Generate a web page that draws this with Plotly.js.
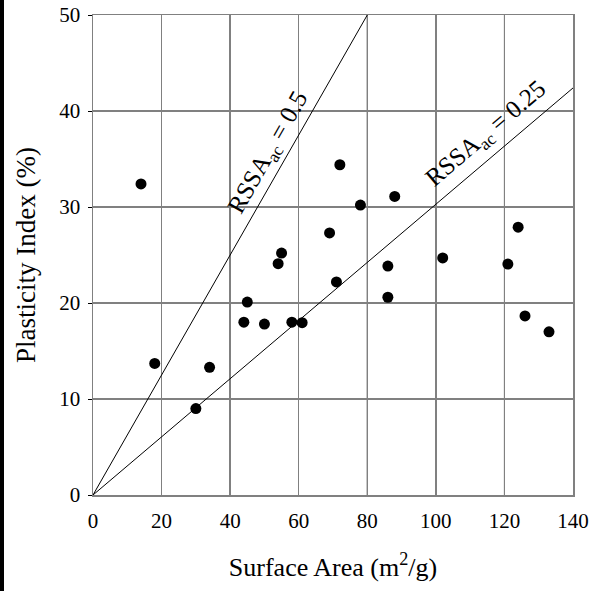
<!DOCTYPE html>
<html>
<head>
<meta charset="utf-8">
<script src="https://cdn.plot.ly/plotly-3.0.1.min.js"></script>
<style>
html,body{margin:0;padding:0;background:#fff;}
#wrap{position:relative;width:592px;height:591px;}
#strip{position:absolute;left:0;top:0;width:4px;height:591px;background:#000;z-index:10;}
#chart{width:592px;height:591px;}
</style>
</head>
<body>
<div id="wrap"><div id="strip"></div><div id="chart"></div></div>
<script>
// Data
var surfaceArea = [14, 18, 30, 34, 44, 45, 50, 54, 55, 58, 61, 69, 71, 72, 78, 86, 86, 88, 102, 121, 124, 126, 133];
var plasticityIndex = [32.4, 13.7, 9.0, 13.3, 18.0, 20.1, 17.8, 24.1, 25.2, 18.0, 17.95, 27.3, 22.2, 34.4, 30.2, 23.85, 20.6, 31.1, 24.7, 24.05, 27.9, 18.65, 17.0];

var lineA_x = [0, 80];
var lineA_y = [0, 50];
var lineB_x = [0, 140];
var lineB_y = [0, 42.4];

var xTicks = [0, 20, 40, 60, 80, 100, 120, 140];
var yTicks = [0, 10, 20, 30, 40, 50];
var darkGridX = [40, 80, 120];

var font = "Liberation Serif, Times New Roman, serif";

var traces = [
  {x: lineA_x, y: lineA_y, mode: 'lines', line: {color: '#000', width: 1}, hoverinfo: 'skip', showlegend: false},
  {x: lineB_x, y: lineB_y, mode: 'lines', line: {color: '#000', width: 1}, hoverinfo: 'skip', showlegend: false},
  {x: surfaceArea, y: plasticityIndex, mode: 'markers', marker: {color: '#000', size: 11}, showlegend: false}
];

var shapes = darkGridX.map(function(v){
  return {type: 'line', xref: 'x', yref: 'y', x0: v, x1: v, y0: 0, y1: 50, line: {color: '#000', width: 1}, layer: 'below'};
});

var layout = {
  width: 592, height: 591,
  margin: {l: 93, r: 19, t: 15, b: 96},
  paper_bgcolor: '#fff', plot_bgcolor: '#fff',
  font: {family: font, color: '#000', size: 21},
  showlegend: false,
  xaxis: {
    range: [0, 140], tickvals: xTicks, ticktext: xTicks.map(String),
    showgrid: true, gridcolor: '#808080', gridwidth: 1.5,
    showline: true, linecolor: '#808080', linewidth: 1.5, mirror: true,
    ticks: '', zeroline: false, ticklabelstandoff: 6,
    tickfont: {family: font, size: 21, color: '#000'},
    title: {text: 'Surface Area (m<sup>2</sup>/g)', font: {family: font, size: 26, color: '#000'}, standoff: 26}
  },
  yaxis: {
    range: [0, 50], tickvals: yTicks, ticktext: yTicks.map(String),
    showgrid: true, gridcolor: '#808080', gridwidth: 1.5,
    showline: true, linecolor: '#808080', linewidth: 1.5, mirror: true,
    ticks: 'outside', ticklen: 4, tickcolor: '#000', tickwidth: 1, zeroline: false,
    ticklabelstandoff: 3,
    tickfont: {family: font, size: 21, color: '#000'},
    title: {text: 'Plasticity Index (%)', font: {family: font, size: 27, color: '#000'}, standoff: 16}
  },
  shapes: shapes,
  annotations: [
    {x: 51.2, y: 35.6, xref: 'x', yref: 'y', text: 'RSSA<sub>ac</sub> = 0.5', showarrow: false, textangle: -60.3,
     font: {family: font, size: 25, color: '#000'}},
    {x: 114.7, y: 37.6, xref: 'x', yref: 'y', text: 'RSSA<sub>ac</sub> = 0.25', showarrow: false, textangle: -40.3,
     font: {family: font, size: 25, color: '#000'}}
  ]
};

Plotly.newPlot('chart', traces, layout, {displayModeBar: false, staticPlot: true});
</script>
</body>
</html>
